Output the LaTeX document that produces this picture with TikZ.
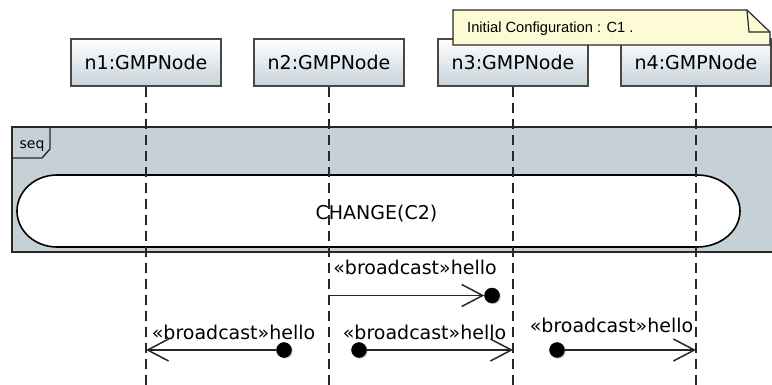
\documentclass[tikz,border=0pt]{standalone}
\usepackage{fontspec}
\setmainfont{DejaVu Sans}
\newfontfamily\notefont{Liberation Sans}
\usetikzlibrary{arrows.meta,shadows}
\definecolor{framefill}{RGB}{197,209,214}
\definecolor{boxbot}{RGB}{198,210,218}
\definecolor{notefill}{RGB}{253,251,214}
\definecolor{ink}{RGB}{40,40,40}
\tikzset{
  lifebox/.style={draw=ink!85, line width=1.2pt, top color=white, bottom color=boxbot,
    minimum width=150pt, minimum height=47pt, inner sep=0pt,
    font=\fontsize{19}{22}\selectfont},
  lifeline/.style={draw=ink, line width=2pt, dash pattern=on 10pt off 6pt},
  dot/.style={circle, fill=black, draw=black, minimum size=15pt, inner sep=0pt,
    drop shadow={shadow xshift=1.2pt, shadow yshift=-1.2pt, opacity=0.45}},
  msg/.style={draw=ink, line width=1.5pt,
    -{Straight Barb[length=21pt,width=22pt,line width=1.5pt]}},
  lbl/.style={anchor=base, inner sep=0pt, font=\fontsize{19}{22}\selectfont},
}
\begin{document}
\begin{tikzpicture}[x=1pt,y=-1pt]
\useasboundingbox (0,0) rectangle (772,385);
% combined fragment frame
\path[fill=framefill, draw=ink, line width=1.6pt] (12,127) -- (780,127) -- (780,252) -- (12,252) -- cycle;
\draw[ink, line width=1.4pt] (12,127) -- (50,127) -- (50,149) -- (42,158) -- (12,158);
\node[anchor=base, inner sep=0pt, font=\fontsize{14}{16}\selectfont] (seq) at (32,149) {seq};
% continuation shape
\path[fill=white, draw=black, line width=1.6pt] (57,175) -- (697,175)
  arc[start angle=-90, end angle=90, x radius=43, y radius=36] -- (57,247)
  arc[start angle=90, end angle=270, x radius=40, y radius=36] -- cycle;
% lifeline heads
\node[lifebox] (n1) at (146,62.5) {n1:GMPNode};
\node[lifebox] (n2) at (329,62.5) {n2:GMPNode};
\node[lifebox] (n3) at (513,62.5) {n3:GMPNode};
\node[lifebox] (n4) at (696,62.5) {n4:GMPNode};
\coordinate (e1) at (146,385);
\coordinate (e2) at (329,385);
\coordinate (e3) at (513,385);
\coordinate (e4) at (696,385);
\draw[lifeline] (n1.south) -- (e1);
\draw[lifeline] (n2.south) -- (e2);
\draw[lifeline] (n3.south) -- (e3);
\draw[lifeline] (n4.south) -- (e4);
\node[lbl] (chg) at (376.5,220) {CHANGE(C2)};
% note
\path[fill=notefill, draw=ink, line width=1.2pt] (453,10) -- (747,10) -- (770,32) -- (770,45) -- (453,45) -- cycle;
\draw[ink, line width=1.2pt] (747,10) -- (749,32) -- (770,32);
\node[anchor=base west, inner sep=0pt, font=\notefont\fontsize{14.7}{16}\selectfont] (note) at (467,33) {Initial Configuration : C1 .};
% messages
\node[dot] (c1) at (492,295.5) {};
\node[dot] (c2) at (284,350) {};
\node[dot] (c3) at (359,350) {};
\node[dot] (c4) at (557,350) {};
\draw[msg] (n2.south |- c1) -- (c1.west);
\draw[msg] (c2) -- (n1.south |- c2);
\draw[msg] (c3) -- (n3.south |- c3);
\draw[msg] (c4) -- (n4.south |- c4);
\node[lbl] (l1) at (415,275) {«broadcast»hello};
\node[lbl] (l2) at (233.5,339) {«broadcast»hello};
\node[lbl] (l3) at (424.5,339) {«broadcast»hello};
\node[lbl] (l4) at (611.5,332) {«broadcast»hello};
\end{tikzpicture}
\end{document}
